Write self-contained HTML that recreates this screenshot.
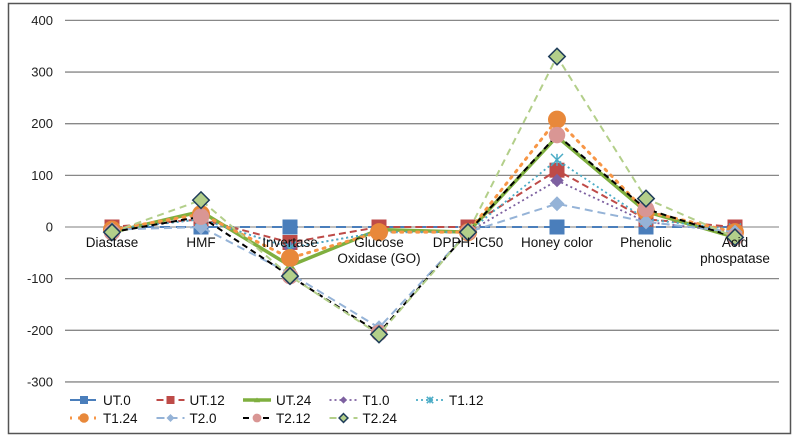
<!DOCTYPE html>
<html><head><meta charset="utf-8"><style>
body{margin:0;background:#fff;}
svg{display:block;font-family:"Liberation Sans",Arial,sans-serif;}
</style></head><body>
<svg id="chart" width="795" height="437">
<rect x="8.5" y="3.5" width="782" height="430" fill="#fff" stroke="#555" stroke-width="1.5"/>
<g id="grid"></g>
<g id="series"></g>
<g id="labels"></g>
<g id="legend"></g>
</svg>
<script>
const categories=["Diastase","HMF","Invertase","Glucose|Oxidase (GO)","DPPH-IC50","Honey color","Phenolic","Acid|phospatase"];
const yTicks=[400,300,200,100,0,-100,-200,-300];
const seriesNames=["UT.0","UT.12","UT.24","T1.0","T1.12","T1.24","T2.0","T2.12","T2.24"];
const utZero=[0,0,0,0,0,0,0,0];
const ut12=[0,15,-30,0,0,110,15,0];
const ut24=[-10,30,-75,-5,-10,175,30,-20];
const t10=[-5,15,-40,-10,-10,90,10,-10];
const t112=[-5,15,-40,-10,-10,130,15,-5];
const t124=[-5,25,-60,-10,-10,208,30,-10];
const t20=[-5,0,-90,-195,-10,45,10,-10];
const t212=[-10,20,-95,-205,-10,178,35,-20];
const t224=[-10,52,-95,-208,-10,330,55,-20];
const seriesValues=[utZero,ut12,ut24,t10,t112,t124,t20,t212,t224];

const styles=[
 {c:"#4a7ebb",w:2,d:"10,6",m:"sq",mc:"#4a7ebb",ms:10},
 {c:"#be4b48",w:2,d:"7,4",m:"sq",mc:"#be4b48",ms:10},
 {c:"#7faf3f",w:3.5,d:"",m:"tri",mc:"#7faf3f",ms:8},
 {c:"#7d60a0",w:1.8,d:"2,3",m:"dia",mc:"#7d60a0",ms:9},
 {c:"#4bacc6",w:1.8,d:"2,3",m:"x",mc:"#4bacc6",ms:8},
 {c:"#f79646",w:3,d:"2,6",m:"circ",mc:"#e8883a",ms:12},
 {c:"#95b3d7",w:2,d:"8,5",m:"dia",mc:"#95b3d7",ms:10},
 {c:"#000",w:2,d:"6,4",m:"circ",mc:"#d99694",ms:11},
 {c:"#b3cf8a",w:2,d:"7,5",m:"dia2",mc:"#b3cf8a",ms:11}
];
const NS="http://www.w3.org/2000/svg";
function x(i){return 112+89*i;}
function y(v){return 227-v*0.5165;}
function mk(t,a,p){const e=document.createElementNS(NS,t);for(const k in a)e.setAttribute(k,a[k]);p.appendChild(e);return e;}
const grid=document.getElementById('grid'),ser=document.getElementById('series'),lab=document.getElementById('labels'),leg=document.getElementById('legend');
yTicks.forEach(t=>{
 const l=mk('line',{x1:65,x2:779,y1:y(t),y2:y(t),stroke:t===0?"#999":"#888","stroke-width":1.3},grid);
 
 
 const tx=mk('text',{x:53,y:y(t)+4.5,"text-anchor":"end","font-size":13,fill:"#222"},lab);
 tx.textContent=t;
 
 
});
function marker(s,cx,cy,g,scale){
 const r=s.ms/2*scale;let e;
 if(s.m==="sq")e=mk('rect',{x:cx-r,y:cy-r,width:2*r,height:2*r,fill:s.mc},g);
 else if(s.m==="circ")e=mk('circle',{cx:cx,cy:cy,r:r,fill:s.mc},g);
 else if(s.m==="tri")e=mk('path',{d:`M${cx-r},${cy+r*0.7}L${cx},${cy-r*0.8}L${cx+r},${cy+r*0.7}Z`,fill:s.mc},g);
 else if(s.m==="dia")e=mk('path',{d:`M${cx},${cy-r}L${cx+r},${cy}L${cx},${cy+r}L${cx-r},${cy}Z`,fill:s.mc},g);
 else if(s.m==="dia2")e=mk('path',{d:`M${cx},${cy-r}L${cx+r},${cy}L${cx},${cy+r}L${cx-r},${cy}Z`,fill:s.mc,stroke:"#1f3d5a","stroke-width":1.5},g);
 else e=mk('path',{d:`M${cx-r},${cy-r}L${cx+r},${cy+r}M${cx+r},${cy-r}L${cx-r},${cy+r}M${cx},${cy-r}L${cx},${cy+r}`,stroke:s.mc,"stroke-width":1.5,fill:"none"},g);
 
 
}
seriesValues.forEach((vals,si)=>{
 const s=styles[si];
 const g=mk('g',{},ser);
 
 
 const p=mk('polyline',{points:vals.map((v,i)=>x(i)+","+y(v)).join(" "),fill:"none",stroke:s.c,"stroke-width":s.w,"stroke-dasharray":s.d,"stroke-linecap":si===5?"round":"butt"},g);
 
 
 vals.forEach((v,i)=>marker(s,x(i),y(v),g,1.5));
});
categories.forEach((c,i)=>{
 c.split("|").forEach((ln,j)=>{
  const t=mk('text',{x:x(i),y:247+j*16,"text-anchor":"middle","font-size":13.5,fill:"#111"},lab);
  t.textContent=ln;
  
  
 });
});
seriesNames.forEach((n,i)=>{
 const col=i%5,row=Math.floor(i/5);
 const lx=70+col*86.5,ly=400+row*18;
 const s=styles[i];
 const g=mk('g',{},leg);
 
 
 mk('line',{x1:lx,x2:lx+28,y1:ly,y2:ly,stroke:s.c,"stroke-width":s.w,"stroke-dasharray":s.d},g);
 marker(s,lx+14,ly,g,0.8);
 const t=mk('text',{x:lx+33,y:ly+5,"font-size":13.5,fill:"#111"},g);
 t.textContent=n;
});
</script>
</body></html>
